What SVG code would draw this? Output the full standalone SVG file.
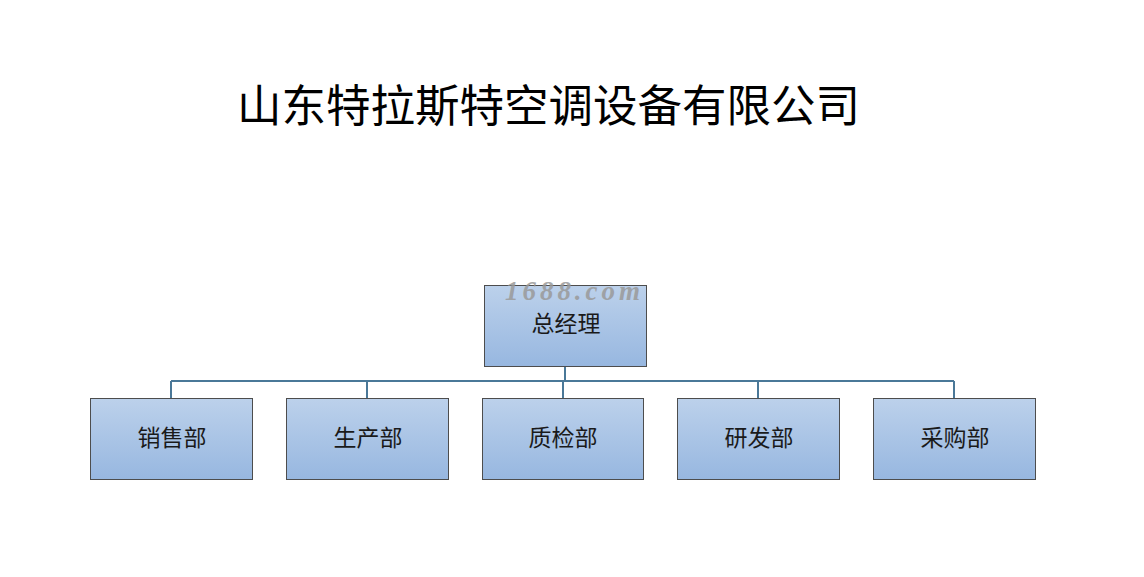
<svg xmlns="http://www.w3.org/2000/svg" width="1144" height="577" viewBox="0 0 1144 577">
<defs>
<linearGradient id="g" x1="0" y1="0" x2="0" y2="1">
<stop offset="0" stop-color="#bcd1eb"/>
<stop offset="1" stop-color="#97b7e0"/>
</linearGradient>
<style>
.box{fill:url(#g);stroke:#4d4d4d;stroke-width:1}
.lbl{font-family:"Noto Sans CJK SC",sans-serif;font-size:23px;fill:#1a1a1a;text-anchor:middle;dominant-baseline:central}
.title{font-family:"Noto Sans CJK SC",sans-serif;font-size:44.5px;fill:#000}
.conn{fill:none;stroke:#4a7898;stroke-width:2}
.wm{font-family:"Liberation Serif",serif;font-style:italic;font-weight:bold;font-size:27px;fill:#9a9a9a;opacity:0.85}
</style>
</defs>
<rect width="1144" height="577" fill="#fff"/>
<text class="title" x="237" y="122" textLength="623">山东特拉斯特空调设备有限公司</text>
<g id="connectors">
<path class="conn" d="M565 366V381M171 381H954M171 381V398M367 381V398M563 381V398M758 381V398M954 381V398"/>
</g>
<g id="n0"><rect class="box" x="484.5" y="285.5" width="162" height="81"/><text class="lbl" x="566" y="322">总经理</text></g>
<g id="n1"><rect class="box" x="90.5" y="398.5" width="162" height="81"/><text class="lbl" x="172" y="436">销售部</text></g>
<g id="n2"><rect class="box" x="286.5" y="398.5" width="162" height="81"/><text class="lbl" x="368" y="436">生产部</text></g>
<g id="n3"><rect class="box" x="482.5" y="398.5" width="161" height="81"/><text class="lbl" x="563" y="436">质检部</text></g>
<g id="n4"><rect class="box" x="677.5" y="398.5" width="162" height="81"/><text class="lbl" x="759" y="436">研发部</text></g>
<g id="n5"><rect class="box" x="873.5" y="398.5" width="162" height="81"/><text class="lbl" x="955" y="436">采购部</text></g>
<text class="wm" x="505" y="300" textLength="135">1688.com</text>
</svg>
